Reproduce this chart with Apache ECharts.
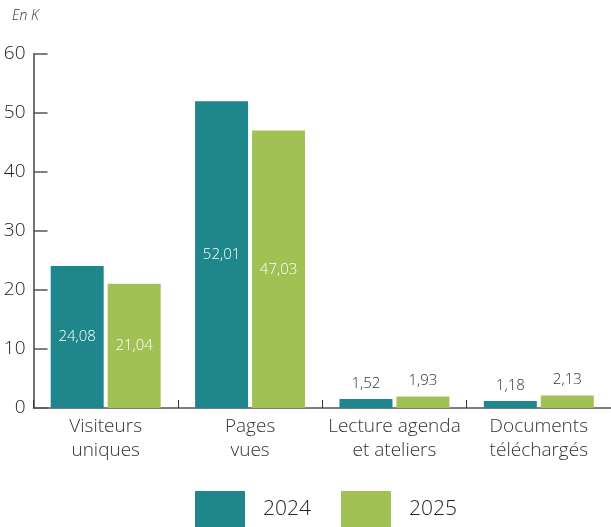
<!DOCTYPE html>
<html>
<head>
<meta charset="utf-8">
<script src="https://cdn.jsdelivr.net/npm/echarts@6/dist/echarts.min.js"></script>
<style>
  html, body { margin: 0; padding: 0; background: #fff; }
  #chart { width: 611px; height: 527px; }
</style>
</head>
<body>
<div id="chart"></div>
<script>
// Audience figures, in thousands
const categories = ['Visiteurs\nuniques', 'Pages\nvues', 'Lecture agenda\net ateliers', 'Documents\ntéléchargés'];
const values2024 = [24.08, 52.01, 1.52, 1.18];
const values2025 = [21.04, 47.03, 1.93, 2.13];
const seriesNames = ['2024', '2025'];
const yTicks = [0, 10, 20, 30, 40, 50, 60];

const FONT = '"Open Sans", "Noto Sans", sans-serif';
const TEAL = '#1f878c';
const GREEN = '#a2c154';

// Values big enough hold their label inside the bar, small ones above it
function labelFor(v) {
  const inside = v > 10;
  return {
    value: v,
    label: {
      show: true,
      position: inside ? 'inside' : 'top',
      distance: 8,
      color: inside ? '#ffffff' : '#333333',
      fontSize: 15,
      fontWeight: 300,
      fontFamily: FONT,
      formatter: p => p.value.toFixed(2).replace('.', ',')
    }
  };
}

const chart = echarts.init(document.getElementById('chart'), null, { renderer: 'canvas' });
chart.setOption({
  animation: false,
  textStyle: { fontFamily: FONT },
  graphic: [{
    type: 'text',
    left: 12,
    top: 9,
    style: { text: 'En K', fontSize: 14, fontStyle: 'italic', fontWeight: 300, fontFamily: FONT, fill: '#333' }
  }],
  legend: {
    data: seriesNames,
    left: 195,
    bottom: 0,
    padding: 0,
    itemWidth: 50,
    itemHeight: 36,
    itemGap: 30,
    icon: 'rect',
    textStyle: { fontSize: 21, fontWeight: 300, color: '#222', fontFamily: FONT, padding: [0, 0, 0, 13] }
  },
  grid: { left: 33.5, right: -2.5, top: 54, bottom: 119, containLabel: false },
  xAxis: {
    type: 'category',
    data: categories,
    axisLine: { lineStyle: { color: '#555', width: 1.5 } },
    axisTick: { show: true, inside: true, length: 8, lineStyle: { color: '#333' } },
    axisLabel: { fontSize: 19, fontWeight: 300, lineHeight: 24, color: '#333', margin: 7, interval: 0, fontFamily: FONT }
  },
  yAxis: {
    type: 'value',
    min: yTicks[0],
    max: yTicks[yTicks.length - 1],
    interval: 10,
    axisLine: { show: true, lineStyle: { color: '#444', width: 1.5 } },
    axisTick: { show: true, inside: true, length: 14, lineStyle: { color: '#555', width: 1.5 } },
    splitLine: { show: false },
    axisLabel: { fontSize: 19, fontWeight: 300, color: '#222', margin: 8, fontFamily: FONT }
  },
  series: [
    {
      name: seriesNames[0],
      type: 'bar',
      barWidth: 53,
      barGap: '7.5%',
      itemStyle: { color: TEAL },
      data: values2024.map(labelFor)
    },
    {
      name: seriesNames[1],
      type: 'bar',
      barWidth: 53,
      barGap: '7.5%',
      itemStyle: { color: GREEN },
      data: values2025.map(labelFor)
    }
  ]
});
</script>
</body>
</html>
